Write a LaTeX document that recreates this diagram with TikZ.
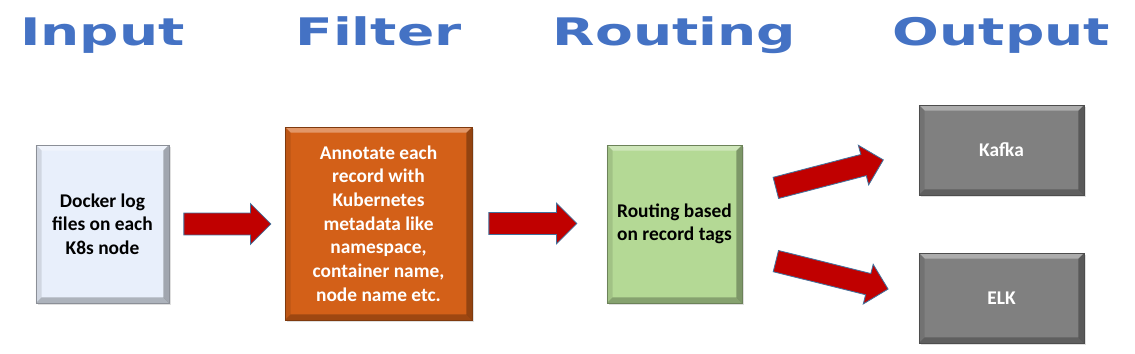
\documentclass[tikz,border=0pt]{standalone}
\usepackage{fontspec}
\setmainfont{Carlito}
\newfontfamily\titlefont{DejaVu Sans}
\usetikzlibrary{shapes.arrows,shadows,calc,positioning}

\definecolor{titleblue}{RGB}{68,114,196}
\definecolor{inputblue}{RGB}{232,239,251}
\definecolor{filterorange}{RGB}{211,96,24}
\definecolor{routegreen}{RGB}{180,217,149}
\definecolor{outgrey}{RGB}{128,128,128}
\definecolor{arrowred}{RGB}{192,0,0}
\definecolor{arrowedge}{RGB}{65,113,156}

\newcommand\stagetext[1]{\scalebox{1.45}[1]{#1}}

\tikzset{
  stage/.style={font=\titlefont\bfseries\fontsize{27}{30}\selectfont, text=titleblue, anchor=base, inner sep=0pt},
  bevel/.style={path picture={
      \coordinate (bnw) at (path picture bounding box.north west);
      \coordinate (bne) at (path picture bounding box.north east);
      \coordinate (bsw) at (path picture bounding box.south west);
      \coordinate (bse) at (path picture bounding box.south east);
      \fill[white,opacity=.35] (bnw) -- (bne) -- ($(bne)+(-4pt,-4pt)$) -- ($(bnw)+(4pt,-4pt)$) -- cycle;
      \fill[black,opacity=.25] (bsw) -- (bse) -- ($(bse)+(-4pt,4pt)$) -- ($(bsw)+(4pt,4pt)$) -- cycle;
      \fill[black,opacity=.10] (bnw) -- ($(bnw)+(4pt,-4pt)$) -- ($(bsw)+(4pt,4pt)$) -- (bsw) -- cycle;
      \fill[black,opacity=.30] (bne) -- ($(bne)+(-4pt,-4pt)$) -- ($(bse)+(-4pt,4pt)$) -- (bse) -- cycle;
    }},
  box/.style={draw=#1!60!black, line width=0.6pt, fill=#1, bevel, align=center,
    font=\bfseries\fontsize{13.8}{16.8}\selectfont, inner sep=0pt,
    drop shadow={opacity=0.25, shadow xshift=1.5pt, shadow yshift=-1.5pt}},
  fatarrow/.style={single arrow, draw=arrowedge, fill=arrowred, line width=0.6pt,
    text height=0.525cm, text depth=0pt, single arrow head extend=0.2375cm,
    inner sep=0pt, minimum height=#1, anchor=tail}
}

\begin{document}
\begin{tikzpicture}[x=0.025cm, y=-0.025cm]
    \useasboundingbox (0,0) rectangle (1135,354);
    % boxes
    \node[box=inputblue, minimum width=3.325cm, minimum height=3.95cm] (docker) at (102.5,224)
        {Docker log\\files on each\\K8s node};
    \node[box=filterorange, text=white, minimum width=4.675cm, minimum height=4.825cm] (annot) at (378.5,223.5)
        {Annotate each\\record with\\Kubernetes\\metadata like\\namespace,\\container name,\\node name etc.};
    \node[box=routegreen, minimum width=3.375cm, minimum height=3.95cm] (route) at (674.5,224)
        {Routing based\\on record tags};
    \node[box=outgrey, text=white, minimum width=4.125cm, minimum height=2.25cm] (kafka) at (1001.5,150) {Kafka};
    \node[box=outgrey, text=white, minimum width=4.125cm, minimum height=2.25cm] (elk) at (1001.5,298) {ELK};
    % stage titles
    \node[stage] (tin) at (docker |- 0,46) {\stagetext{Input}};
    \node[stage] (tfilter) at (annot |- 0,46) {\stagetext{Filter}};
    \node[stage] (trouting) at (route |- 0,46) {\stagetext{Routing}};
    \node[stage] (toutput) at (kafka |- 0,46) {\stagetext{Output}};
    % arrows
    \node[fatarrow=2.175cm] (a1) at ($(docker.east)+(14,0)$) {};
    \node[fatarrow=2.2cm] (a2) at ($(annot.east)+(16,0)$) {};
    \node[fatarrow=2.775cm, rotate=14.6] (a3) at ($(route.east)+(33,-36)$) {};
    \node[fatarrow=2.89cm, rotate=-14] (a4) at ($(route.east)+(33,37)$) {};
\end{tikzpicture}
\end{document}
